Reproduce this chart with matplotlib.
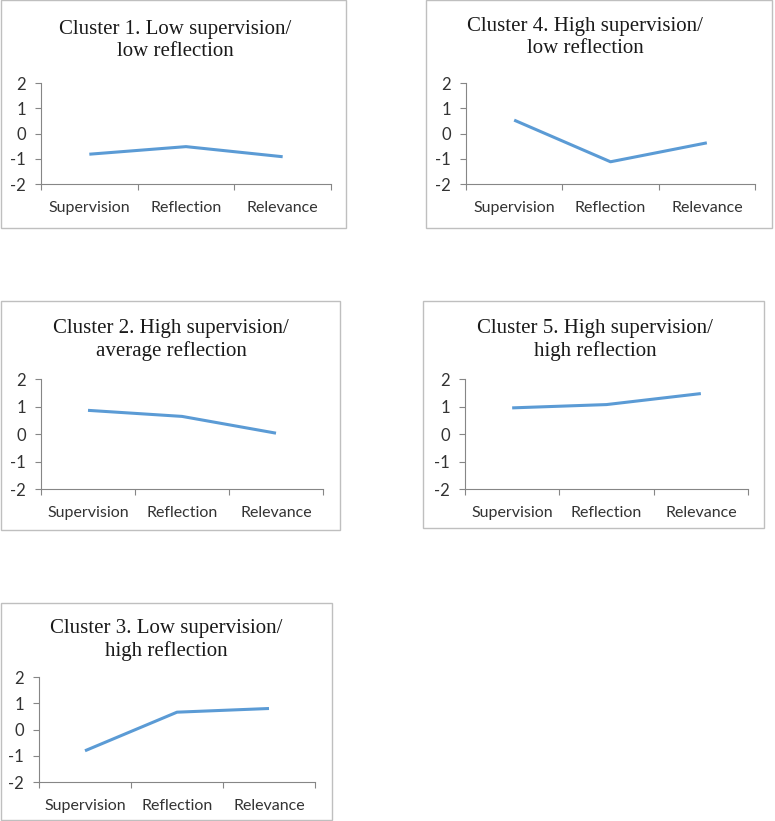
import matplotlib
matplotlib.use("Agg")
import matplotlib.pyplot as plt
from matplotlib.patches import Rectangle
from matplotlib.ticker import FixedLocator, NullFormatter, FixedFormatter

W, H = 775, 821
categories = ["Supervision", "Reflection", "Relevance"]
titles = [
    "Cluster 1. Low supervision/\nlow reflection",
    "Cluster 4. High supervision/\nlow reflection",
    "Cluster 2. High supervision/\naverage reflection",
    "Cluster 5. High supervision/\nhigh reflection",
    "Cluster 3. Low supervision/\nhigh reflection",
]
cluster1 = [-0.82, -0.52, -0.92]
cluster4 = [0.53, -1.12, -0.37]
cluster2 = [0.86, 0.64, 0.03]
cluster5 = [0.95, 1.07, 1.47]
cluster3 = [-0.81, 0.66, 0.80]
series = [cluster1, cluster4, cluster2, cluster5, cluster3]
yticks = [-2, -1, 0, 1, 2]

# layout in pixels: border (x0,y0,x1,y1), axes (x0,y0,x1,y1), title center (x, y)
borders = [(0, 0, 347, 228), (425, 0, 773, 228), (0, 301, 341, 530),
           (422, 301, 765, 528), (0, 603, 333, 820)]
axes_px = [(41, 83, 331, 184), (466, 83, 755, 184), (41, 379, 323, 489),
           (465, 379, 748, 489), (39, 677, 315, 782)]
title_pos = [(175, 40.5), (585, 37.5), (171, 340), (595, 340), (166, 640)]

fig = plt.figure(figsize=(W / 100, H / 100), dpi=100)
fig.patch.set_facecolor("white")

def fx(x):
    return x / W

def fy(y):
    return 1 - y / H

for i in range(5):
    bx0, by0, bx1, by1 = borders[i]
    fig.patches.append(Rectangle((fx(bx0) + 0.0007, fy(by1)), fx(bx1 - bx0) - 0.0014, (by1 - by0) / H,
                                 transform=fig.transFigure, fill=False,
                                 edgecolor="#BFBFBF", linewidth=1.0, zorder=0))
    ax0, ay0, ax1, ay1 = axes_px[i]
    ax = fig.add_axes([fx(ax0), fy(ay1), fx(ax1 - ax0), (ay1 - ay0) / H])
    ax.set_facecolor("none")
    xs = [0.5, 1.5, 2.5]
    ax.plot(xs, series[i], color="#5B9BD5", linewidth=2.2, solid_capstyle="butt")
    ax.set_xlim(0, 3)
    ax.set_ylim(-2, 2)
    ax.xaxis.set_major_locator(FixedLocator([0, 1, 2, 3]))
    ax.xaxis.set_major_formatter(NullFormatter())
    ax.xaxis.set_minor_locator(FixedLocator(xs))
    ax.xaxis.set_minor_formatter(FixedFormatter(categories))
    ax.set_yticks(yticks)
    ax.set_yticklabels([str(v) for v in yticks])
    for s in ["top", "right"]:
        ax.spines[s].set_visible(False)
    for s in ["left", "bottom"]:
        ax.spines[s].set_color("#868686")
        ax.spines[s].set_linewidth(0.8)
    ax.tick_params(axis="x", which="major", length=4, color="#868686", direction="out", width=0.8)
    ax.tick_params(axis="x", which="minor", length=0, pad=12.5, labelsize=11.5, labelcolor="#333333")
    ax.tick_params(axis="y", length=4, color="#868686", width=0.8, pad=7, labelsize=12, labelcolor="#333333")
    for lab in ax.get_xticklabels(minor=True) + ax.get_yticklabels():
        lab.set_fontfamily("Lato")
    tx, ty = title_pos[i]
    fig.text(fx(tx), fy(ty), titles[i], ha="center", va="center",
             fontfamily="Liberation Serif", fontsize=15, color="#1a1a1a",
             linespacing=1.2)

fig.savefig("out.png", dpi=100)
